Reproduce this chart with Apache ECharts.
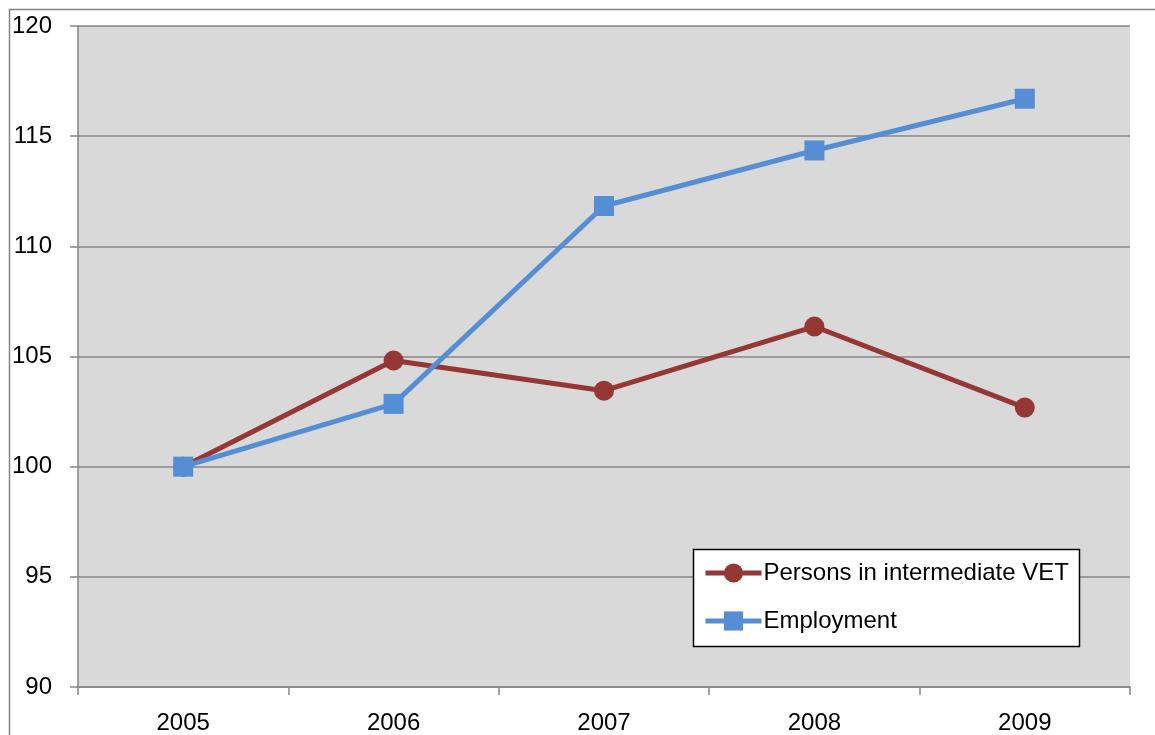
<!DOCTYPE html>
<html>
<head>
<meta charset="utf-8">
<script src="https://cdn.jsdelivr.net/npm/echarts@6/dist/echarts.min.js"></script>
<style>
  html, body { margin: 0; padding: 0; background: #ffffff; }
  #chart { width: 1155px; height: 735px; }
</style>
</head>
<body>
<div id="chart"></div>
<script>
// Index values, 2005 = 100
const years = ['2005', '2006', '2007', '2008', '2009'];
const personsVET = [100, 104.82, 103.45, 106.36, 102.68];
const employment = [100, 102.85, 111.83, 114.35, 116.7];
const yTicks = { min: 90, max: 120, interval: 5 };

const FONT = '"Liberation Sans", Arial, sans-serif';
const FONT_SIZE = 24;
const RED = '#953735';
const BLUE = '#558ed5';
const GRID_GRAY = '#868686';

const chart = echarts.init(document.getElementById('chart'), null, { renderer: 'canvas' });

chart.setOption({
  animation: false,
  backgroundColor: '#ffffff',
  textStyle: { fontFamily: FONT },
  grid: {
    left: 78, right: 25, top: 26, bottom: 48,
    show: true, backgroundColor: '#d9d9d9', borderWidth: 0
  },
  graphic: [
    {
      // outer chart frame
      type: 'rect', z: 0, silent: true,
      shape: { x: 9.5, y: 9.5, width: 1300, height: 900 },
      style: { fill: 'none', stroke: GRID_GRAY, lineWidth: 1.5 }
    },
    {
      // legend frame
      type: 'rect', z: 50, silent: true,
      shape: { x: 693.5, y: 549.5, width: 386, height: 97 },
      style: { fill: '#ffffff', stroke: '#000000', lineWidth: 1.5 }
    }
  ],
  legend: {
    orient: 'vertical',
    left: 703, top: 561,
    padding: 0,
    itemWidth: 56, itemHeight: 24, itemGap: 24,
    z: 60,
    lineStyle: { width: 5 },
    textStyle: { fontFamily: FONT, fontSize: FONT_SIZE, color: '#000000', padding: [0, 0, 0, -3] },
    data: ['Persons in intermediate VET', 'Employment']
  },
  xAxis: {
    type: 'category',
    data: years,
    boundaryGap: true,
    axisLine: { lineStyle: { color: GRID_GRAY, width: 1.5 } },
    axisTick: { show: true, alignWithLabel: false, length: 8, lineStyle: { color: GRID_GRAY, width: 1.5 } },
    axisLabel: { color: '#000000', fontSize: FONT_SIZE, fontFamily: FONT, margin: 24 },
    splitLine: { show: false }
  },
  yAxis: {
    type: 'value',
    min: yTicks.min, max: yTicks.max, interval: yTicks.interval,
    axisLine: { show: true, lineStyle: { color: GRID_GRAY, width: 1.5 } },
    axisTick: { show: true, length: 8, lineStyle: { color: GRID_GRAY, width: 1.5 } },
    axisLabel: { color: '#000000', fontSize: FONT_SIZE, fontFamily: FONT, margin: 26 },
    splitLine: { show: true, lineStyle: { color: GRID_GRAY, width: 1.5 } }
  },
  series: [
    {
      name: 'Persons in intermediate VET',
      type: 'line',
      data: personsVET,
      symbol: 'circle',
      symbolSize: 20,
      lineStyle: { color: RED, width: 5 },
      itemStyle: { color: RED },
      z: 3
    },
    {
      name: 'Employment',
      type: 'line',
      data: employment,
      symbol: 'rect',
      symbolSize: 20,
      lineStyle: { color: BLUE, width: 5 },
      itemStyle: { color: BLUE },
      z: 4
    }
  ]
});
</script>
</body>
</html>
